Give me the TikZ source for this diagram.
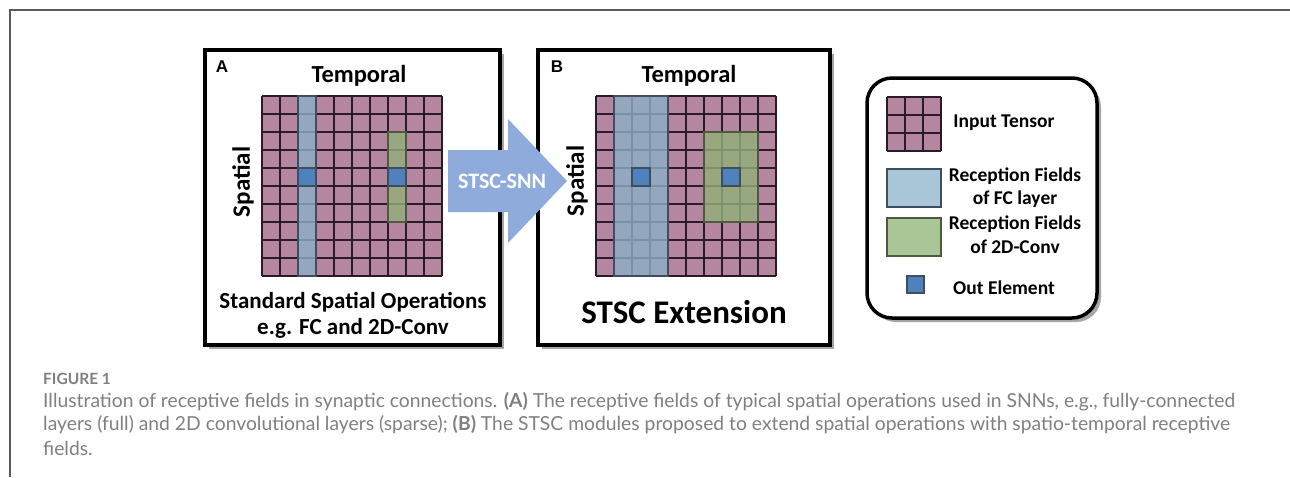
\documentclass[tikz,border=0pt]{standalone}
\usepackage{fontspec}
\setmainfont{Carlito}
\newfontfamily\capfont{Lato}
\newfontfamily\lblfont{Liberation Sans}
\definecolor{mauve}{HTML}{B5869F}
\definecolor{cellline}{HTML}{2B1B24}
\definecolor{fcblue}{HTML}{A9C5D8}
\definecolor{fcover}{HTML}{8CB0C8}
\definecolor{fcedge}{HTML}{3E4E5E}
\definecolor{cvgreen}{HTML}{A9C697}
\definecolor{cvover}{HTML}{91B078}
\definecolor{cvedge}{HTML}{4E5A40}
\definecolor{outblue}{HTML}{4F81BD}
\definecolor{arrowblue}{HTML}{8FABDC}
\definecolor{capgray}{HTML}{808080}
\definecolor{framegray}{HTML}{5A5A5A}
\tikzset{
  cellgrid/.style={draw=cellline, line width=1.3pt},
  fcfield/.style={fill=fcover, fill opacity=0.8, draw=fcedge, line width=1.3pt},
  cvfield/.style={fill=cvover, fill opacity=0.8, draw=cvedge, line width=1.3pt},
  outel/.style={fill=outblue, draw=fcedge, line width=1.1pt},
  panel/.style={draw=black, line width=4.5pt},
  panelshadow/.style={fill=black!35, draw=none},
  bigtitle/.style={font=\bfseries\fontsize{24.5}{28}\selectfont, inner sep=0pt},
  axislbl/.style={font=\bfseries\fontsize{25}{28}\selectfont, inner sep=0pt, rotate=90},
  paneltag/.style={font=\lblfont\bfseries\fontsize{17}{19}\selectfont, inner sep=0pt},
  legtext/.style={font=\bfseries\fontsize{19.5}{23}\selectfont, inner sep=0pt, align=center},
  captext/.style={font=\capfont\fontsize{19.3}{23}\selectfont, text=capgray, inner sep=0pt, anchor=west}
}
\newcommand\tensorgrid[4]{% x0 y0 ncols nrows
  \fill[mauve] (#1,#2) rectangle ({#1+18*#3},{#2+18*#4});
  \foreach \i in {0,...,#3} {\draw[cellgrid] ({#1+18*\i},#2) -- ({#1+18*\i},{#2+18*#4});}
  \foreach \j in {0,...,#4} {\draw[cellgrid] (#1,{#2+18*\j}) -- ({#1+18*#3},{#2+18*\j});}
}
\begin{document}
\begin{tikzpicture}[x=1pt,y=-1pt]
\useasboundingbox (0,0) rectangle (1290,477);
\fill[white] (0,0) rectangle (1290,477);
% outer frame
\draw[framegray, line width=1.4pt] (1290,10) -- (10,10) -- (10,477);

% panel shadows and panels
\fill[panelshadow] (209,54) rectangle (504,349);
\fill[panelshadow] (542,54) rectangle (834,349);
\fill[white] (205,50) rectangle (500,345);
\fill[white] (538,50) rectangle (830,345);
\draw[panel] (205,50) rectangle (500,345);
\draw[panel] (538,50) rectangle (830,345);

% ---------- panel A ----------
\node[paneltag] (tagA) at (222,67) {A};
\node[bigtitle] (tempA) at (359,76) {Temporal};
\node[axislbl] (spatA) at (243,182) {Spatial};
\tensorgrid{262}{96}{10}{10}
\filldraw[fcfield] (298,96) rectangle (316,276);
\filldraw[cvfield] (388,132) rectangle (406,222);
\filldraw[outel] (298,168) rectangle (316,186);
\filldraw[outel] (388,168) rectangle (406,186);
\node[bigtitle, font=\bfseries\fontsize{23}{26}\selectfont] (stdA) at (353,302) {Standard Spatial Operations};
\node[bigtitle, font=\bfseries\fontsize{23}{26}\selectfont] (egA) at (353,328) {e.g. FC and 2D-Conv};

% ---------- panel B ----------
\node[paneltag] (tagB) at (557,67) {B};
\node[bigtitle] (tempB) at (689,76) {Temporal};
\node[axislbl] (spatB) at (577,181) {Spatial};
\tensorgrid{596}{96}{10}{10}
\filldraw[fcfield] (614,96) rectangle (668,276);
\filldraw[cvfield] (704,132) rectangle (758,222);
\filldraw[outel] (632,168) rectangle (650,186);
\filldraw[outel] (722,168) rectangle (740,186);
\node[bigtitle, font=\bfseries\fontsize{33}{36}\selectfont] (extB) at (684,312) {STSC Extension};

% ---------- block arrow ----------
\fill[arrowblue] (448,150) -- (508,150) -- (508,119) -- (567,181) -- (508,243) -- (508,212) -- (448,212) -- cycle;
\node[font=\bfseries\fontsize{22}{24}\selectfont, text=white, inner sep=0pt] (arrowlbl) at (502,181) {STSC-SNN};

% ---------- legend ----------
\fill[black!35, rounded corners=25pt] (871,82) rectangle (1101,322);
\filldraw[fill=white, draw=black, line width=3.5pt, rounded corners=25pt] (867,78) rectangle (1097,318);
\tensorgrid{887}{97}{3}{3}
\node[legtext] (legIn) at (1004,123) {Input Tensor};
\filldraw[fill=fcblue, draw=fcedge, line width=1.2pt] (887,169) rectangle (941,207);
\node[legtext] (legFC1) at (1015,176) {Reception Fields};
\node[legtext] (legFC2) at (1015,199) {of FC layer};
\filldraw[fill=cvgreen, draw=cvedge, line width=1.2pt] (887,218) rectangle (941,256);
\node[legtext] (legCV1) at (1015,224) {Reception Fields};
\node[legtext] (legCV2) at (1015,247) {of 2D-Conv};
\filldraw[outel] (907,276) rectangle (924,293);
\node[legtext] (legOut) at (1004,288) {Out Element};

% ---------- caption ----------
\node[captext, font=\capfont\bfseries\fontsize{15.5}{18}\selectfont] (figno) at (43,379) {FIGURE 1};
\node[captext] (cap1) at (43,402) {Illustration of receptive fields in synaptic connections. \textbf{(A)} The receptive fields of typical spatial operations used in SNNs, e.g., fully-connected};
\node[captext] (cap2) at (43,425) {layers (full) and 2D convolutional layers (sparse); \textbf{(B)} The STSC modules proposed to extend spatial operations with spatio-temporal receptive};
\node[captext] (cap3) at (43,448) {fields.};
\end{tikzpicture}
\end{document}
